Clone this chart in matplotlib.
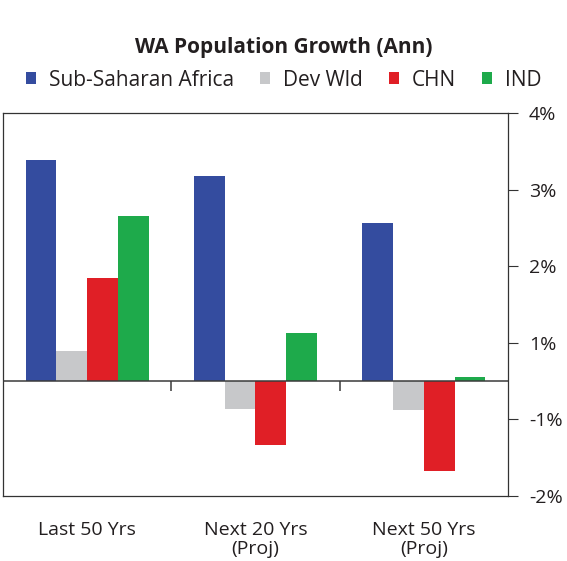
import matplotlib.pyplot as plt
import numpy as np
from matplotlib.patches import Patch

# bar heights, measured from the zero line (1 unit = one gridstep of the right axis)
categories = ["Last 50 Yrs", "Next 20 Yrs\n(Proj)", "Next 50 Yrs\n(Proj)"]
series_names = ["Sub-Saharan Africa", "Dev Wld", "CHN", "IND"]
ssa = [2.88, 2.68, 2.07]
dev_wld = [0.39, -0.37, -0.38]
chn = [1.35, -0.84, -1.18]
ind = [2.15, 0.63, 0.05]
colors = ["#344c9f", "#c7c8ca", "#e01f26", "#1eaa4b"]

# right axis: tick positions and the labels printed next to them
tick_pos = [3.5, 2.5, 1.5, 0.5, -0.5, -1.5]
tick_labels = ["4%", "3%", "2%", "1%", "-1%", "-2%"]

plt.rcParams["font.family"] = ["Open Sans", "DejaVu Sans"]
text_color = "#231f20"

fig = plt.figure(figsize=(5.67, 5.61), dpi=100)
ax = fig.add_axes([3 / 567, 65 / 561, 505 / 567, 383 / 561])

x = np.arange(len(categories))
width = 0.183
for i, (values, color) in enumerate(zip([ssa, dev_wld, chn, ind], colors)):
    ax.bar(x + (i - 1.5) * width, values, width, color=color, linewidth=0)

ax.axhline(0, color="#3a3a3a", linewidth=1.1, zorder=3)
ax.vlines(x[:-1] + 0.5, -0.13, 0, color="#3a3a3a", linewidth=1.1, zorder=3)

ax.set_xlim(-0.5, 2.5)
ax.set_ylim(-1.5, 3.5)
ax.yaxis.tick_right()
ax.set_yticks(tick_pos)
ax.set_yticklabels(tick_labels)
ax.tick_params(axis="y", direction="out", length=7, width=0.8, pad=8,
               labelsize=14, colors="#333333", labelcolor=text_color)
ax.set_xticks(x)
ax.set_xticklabels(categories, linespacing=1.05)
ax.tick_params(axis="x", length=0, pad=18, labelsize=14, labelcolor=text_color)

for spine in ax.spines.values():
    spine.set_color("#333333")
    spine.set_linewidth(0.9)

fig.text(0.5, 1 - 48 / 561, "WA Population Growth (Ann)", ha="center", va="center",
         fontsize=15, fontweight="bold", color=text_color)

handles = [Patch(facecolor=c, edgecolor="none") for c in colors]
fig.legend(handles, series_names, loc="center", bbox_to_anchor=(0.5, 1 - 80 / 561),
           ncol=4, frameon=False, fontsize=15, handlelength=0.5, handleheight=0.5,
           handletextpad=0.6, columnspacing=1.25, labelcolor=text_color)

fig.savefig("out.png", dpi=100)
